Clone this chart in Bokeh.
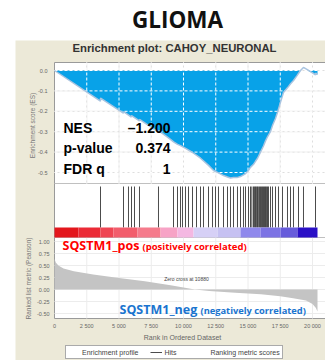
import numpy as np
from math import pi
from bokeh.plotting import figure
from bokeh.models import Range1d, Label, Legend, LegendItem
from bokeh.core.properties import value
from bokeh.embed import file_html
from bokeh.resources import INLINE

# ---------------- data ----------------
chart_title = "GLIOMA"
gene_set = "CAHOY_NEURONAL"
stat_names = ["NES", "p-value", "FDR q"]
stat_values = ["\u20131.200", "0.374", "1"]
zero_cross = 10880

es_rank = [0, 3560, 3570, 5340, 5350, 5960, 5970, 6580, 6590, 8060, 8070, 8990,
           9230, 9540, 9770, 10160, 10700, 11320, 11940, 12330, 12710, 13100,
           13410, 13640, 13880, 14190, 14420, 14650, 14810, 15040, 15190, 15430,
           15580, 15740, 15970, 16200, 16360, 16510, 16740, 16900, 17130, 17290,
           17500, 17750, 18060, 18300, 18530, 18800, 19070, 19300, 19600, 20000,
           20230, 20240, 20388]
es_value = [0.0, -0.150, -0.135, -0.209, -0.202, -0.228, -0.221, -0.247, -0.240,
            -0.302, -0.295, -0.338, -0.350, -0.362, -0.368, -0.382, -0.402, -0.430,
            -0.465, -0.490, -0.502, -0.515, -0.522, -0.527, -0.525, -0.524, -0.520,
            -0.512, -0.505, -0.490, -0.475, -0.460, -0.445, -0.430, -0.400, -0.370,
            -0.345, -0.325, -0.300, -0.270, -0.235, -0.205, -0.160, -0.108, -0.085,
            -0.065, -0.049, -0.025, 0.0, 0.015, 0.004, -0.012, -0.022, -0.012, -0.020]

hit_rank = [3566, 5349, 5736, 5969, 6202, 6589, 8062, 9225, 9535, 9767, 9922,
            10155, 10388, 10698, 11008, 11318, 11550, 11938, 12248, 12481, 12713,
            13101, 13411, 13643, 13876, 14186, 14419, 14651, 14806, 15039, 15194,
            15300, 15426, 15500, 15581, 15650, 15736, 15800, 15891, 15969, 16050,
            16124, 16202, 16280, 16357, 16430, 16512, 16589, 16744, 16899, 17132,
            17364, 17674, 18062, 18295, 18527, 18915, 19302, 20233]

metric_rank = [0, 100, 300, 700, 1500, 3000, 5000, 7000, 9000, 10000, 10880,
               12000, 14000, 16000, 17500, 18500, 19500, 20000, 20250, 20388]
metric_value = [0.64, 0.56, 0.50, 0.44, 0.38, 0.31, 0.24, 0.17, 0.09, 0.04, 0.0,
                -0.03, -0.07, -0.10, -0.14, -0.18, -0.23, -0.30, -0.38, -0.46]

heat_edges = [0, 1860, 3570, 4570, 6430, 8220, 9530, 10780, 12640, 14420,
              15970, 17520, 18840, 20388]
heat_colors = ["#e3161c", "#eb2a36", "#ef4553", "#f25d6c", "#f57b8c", "#f7a3c6",
               "#f4b8e2", "#d6d0f6", "#c6c1f2", "#8f88ec", "#7c73e4", "#675cdb",
               "#2a10c6"]

x_ticks = [0, 2500, 5000, 7500, 10000, 12500, 15000, 17500, 20000]
x_tick_labels = ["0", "2 500", "5 000", "7 500", "10 000", "12 500", "15 000",
                 "17 500", "20 000"]
es_ticks = [0.0, -0.1, -0.2, -0.3, -0.4, -0.5]
es_tick_labels = ["0.0", "-0.1", "-0.2", "-0.3", "-0.4", "-0.5"]
metric_ticks = [1.0, 0.75, 0.5, 0.25, 0.0, -0.25, -0.5]
metric_tick_labels = ["1.00", "0.75", "0.50", "0.25", "0.00", "-0.25", "-0.50"]

# ---------------- layout (canvas pixels) ----------------
W, H = 325, 360
X0, XPR = 54.0, 0.0129        # canvas x of rank 0, px per rank
ES0, ESP = 70.0, 204.0        # canvas y of ES 0, px per ES unit
M0, MP = 289.0, 48.0          # canvas y of metric 0, px per metric unit
PL = 54                       # plot area left
ES_T, ES_B = 62, 183
HIT_T, HIT_B = 186, 227
BAR_T, BAR_B = 227, 237
RK_T, RK_B = 237, 318

p = figure(width=W, height=H, x_range=Range1d(0, W), y_range=Range1d(H, 0),
           output_backend="svg", toolbar_location=None,
           x_axis_location=None, y_axis_location=None, min_border=0,
           outline_line_color=None, background_fill_color="white",
           border_fill_color="white")
p.grid.visible = False
p.extra_x_ranges = {"rank": Range1d(-X0 / XPR, (W - X0) / XPR)}
p.extra_y_ranges = {"es": Range1d((ES0 - H) / ESP, ES0 / ESP),
                    "metric": Range1d((M0 - H) / MP, M0 / MP)}

# panel background
p.quad(left=[15], right=[W], top=[40], bottom=[H], fill_color="#ece9d8", line_color=None)
p.quad(left=[PL], right=[W + 2], top=[ES_T], bottom=[RK_B], fill_color="white",
       line_color="#9a9a9a", line_width=1)
p.segment(x0=[PL, PL], x1=[W, W], y0=[ES_B, BAR_B], y1=[ES_B, BAR_B],
          line_color="#c0c0c0", line_width=1)

grid_col = "#dedede"
nx = len(x_ticks) - 1
# ES grid (under)
p.segment(x0=x_ticks[1:], x1=x_ticks[1:], y0=[ES_T] * nx, y1=[ES_B] * nx,
          x_range_name="rank", line_color=grid_col)
p.segment(x0=[PL] * len(es_ticks), x1=[W] * len(es_ticks), y0=es_ticks, y1=es_ticks,
          y_range_name="es", line_color=grid_col)
# ranked grid
p.segment(x0=x_ticks[1:], x1=x_ticks[1:], y0=[RK_T] * nx, y1=[RK_B] * nx,
          x_range_name="rank", line_color="#ececec")
p.segment(x0=[PL] * len(metric_ticks), x1=[W] * len(metric_ticks), y0=metric_ticks,
          y1=metric_ticks, y_range_name="metric", line_color="#ececec")

# ES fill
es_arr = np.array(es_value)
p.varea(x=es_rank, y1=np.minimum(es_arr, 0), y2=0, x_range_name="rank",
        y_range_name="es", fill_color="#08a2e8")
# white dashed grid over fill
p.segment(x0=x_ticks[1:], x1=x_ticks[1:], y0=[ES_T] * nx, y1=[ES_B] * nx,
          x_range_name="rank", line_color="white", line_dash="3 2", line_width=1)
p.segment(x0=[PL] * len(es_ticks), x1=[W] * len(es_ticks), y0=es_ticks, y1=es_ticks,
          y_range_name="es", line_color="white", line_dash="3 2", line_width=1)
p.line(x=es_rank, y=es_value, x_range_name="rank", y_range_name="es",
       line_color="#a9c4e0", line_width=1.5)

# hits
r_hits = p.segment(x0=hit_rank, x1=hit_rank, y0=[HIT_T] * len(hit_rank),
                   y1=[HIT_B] * len(hit_rank), x_range_name="rank",
                   line_color="black", line_width=1, line_alpha=0.7)
# heat bar
p.quad(left=heat_edges[:-1], right=heat_edges[1:], top=[BAR_T] * len(heat_colors),
       bottom=[BAR_B] * len(heat_colors), x_range_name="rank",
       fill_color=heat_colors, line_color=None)

# ranked metric
p.varea(x=metric_rank, y1=metric_value, y2=0, x_range_name="rank",
        y_range_name="metric", fill_color="#c4c4c4")

# tick labels
tick_font = value("Liberation Sans")
p.text(x=[47] * len(es_ticks), y=es_ticks, text=es_tick_labels, y_range_name="es",
       text_font=tick_font, text_font_size="5.5px", text_color="#666666",
       text_align="right", text_baseline="middle")
p.text(x=[49] * len(metric_ticks), y=metric_ticks, text=metric_tick_labels,
       y_range_name="metric", text_font=tick_font, text_font_size="5.5px",
       text_color="#666666", text_align="right", text_baseline="middle")
p.text(x=x_ticks, y=[325] * len(x_ticks), text=x_tick_labels, x_range_name="rank",
       text_font=tick_font, text_font_size="5.5px", text_color="#666666",
       text_align="center", text_baseline="middle")

def lab(x, y, text, size, color, font="Liberation Sans", style="normal",
        align="left", angle=0):
    p.add_layout(Label(x=x, y=y, text=text, text_font=font, text_font_size=size,
                       text_color=color, text_font_style=style, text_align=align,
                       text_baseline="middle", angle=angle))

lab(177, 19, chart_title, "22.5px", "#111111", font="Open Sans", style="bold", align="center")
lab(174, 47, "Enrichment plot: " + gene_set, "11.3px", "#333333", style="bold", align="center")
for i, (nm, vl) in enumerate(zip(stat_names, stat_values)):
    yy = 127 + i * 20.5
    lab(63, yy, nm, "14px", "black", style="bold")
    lab(170, yy, vl, "14px", "black", style="bold", align="right")

lab(62, 245, "SQSTM1_pos", "12.5px", "#ff0000", font="Open Sans", style="bold")
lab(142, 246, "(positively correlated)", "9.5px", "#ff0000", font="Open Sans", style="bold")
lab(119, 309, "SQSTM1_neg", "12.5px", "#1a74cf", font="Open Sans", style="bold")
lab(200, 310, "(negatively correlated)", "9.3px", "#1a74cf", font="Open Sans", style="bold")
lab(186, 278, "Zero cross at %d" % zero_cross, "5px", "#444444", align="center")

lab(32, 125, "Enrichment score (ES)", "6.5px", "#777777", align="center", angle=pi / 2)
lab(27.5, 278, "Ranked list metric (Pearson)", "6.5px", "#777777", align="center", angle=pi / 2)
lab(182, 337, "Rank in Ordered Dataset", "7px", "#666666", align="center")

# legend
r_es_leg = p.line(x=[], y=[], line_color="#1f6fd0", line_width=3)
r_metric_leg = p.line(x=[], y=[], line_color="#c8c8c8", line_width=1)
legend = Legend(items=[LegendItem(label="Enrichment profile", renderers=[r_es_leg]),
                       LegendItem(label="Hits", renderers=[r_hits]),
                       LegendItem(label="Ranking metric scores", renderers=[r_metric_leg])],
                location=(65, 1), orientation="horizontal",
                label_text_font="Liberation Sans", label_text_font_size="7px",
                label_text_color="#444444", glyph_width=12, glyph_height=8,
                label_height=8, label_standoff=2, spacing=12, padding=2, margin=0,
                border_line_color="#555555", background_fill_color="white",
                background_fill_alpha=1.0)
p.add_layout(legend)

open("out.html", "w").write(file_html(p, INLINE))
